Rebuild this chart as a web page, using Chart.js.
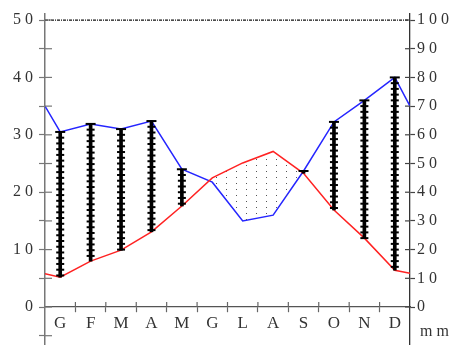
<!DOCTYPE html>
<html><head><meta charset="utf-8">
<script src="https://cdn.jsdelivr.net/npm/chart.js@4.4.1/dist/chart.umd.min.js"></script>
<style>html,body{margin:0;padding:0;background:#fff}canvas{display:block}</style>
</head><body>
<canvas id="c" width="454" height="345"></canvas>
<script>
// ---- data ----
const months = ['G','F','M','A','M','G','L','A','S','O','N','D'];
const temperature = [5.2, 8.0, 9.9, 13.1, 17.6, 22.5, 25.1, 27.1, 23.3, 16.9, 12.0, 6.4];   // °C (left axis)
const precipitation = [61, 63.8, 62, 64.8, 48, 43.5, 30, 32, 47.4, 64.5, 72, 80];            // mm (right axis)
const temperatureEdges = [5.8, 5.9];   // value where the curve meets the left / right axis
const precipitationEdges = [70, 70];
const tempTicks = [-5, 0, 5, 10, 15, 20, 25, 30, 35, 40, 45, 50];
const precTicks = [0, 10, 20, 30, 40, 50, 60, 70, 80, 90, 100];
const unitLabel = 'mm';

const SERIF = "'Liberation Serif','Times New Roman',serif";
const TXT = '#333';

// dotted pattern for the arid period
const pc = document.createElement('canvas');
pc.width = 10; pc.height = 6;
const pctx = pc.getContext('2d');
pctx.fillStyle = '#555';
pctx.fillRect(6, 3, 1, 1);
const dots = pctx.createPattern(pc, 'repeat');

const tempData = [{x: 0, y: temperatureEdges[0]}]
  .concat(temperature.map((v, i) => ({x: i + 0.5, y: v})))
  .concat([{x: months.length, y: temperatureEdges[1]}]);
const precData = [{x: 0, y: precipitationEdges[0]}]
  .concat(precipitation.map((v, i) => ({x: i + 0.5, y: v})))
  .concat([{x: months.length, y: precipitationEdges[1]}]);
const humidBars = [];
months.forEach((m, i) => {
  if (precipitation[i] > temperature[i] * 2) humidBars.push({x: i + 0.5, y: [temperature[i] * 2, precipitation[i]]});
});
const topLine = [{x: 0, y: tempTicks[tempTicks.length - 1]}, {x: months.length, y: tempTicks[tempTicks.length - 1]}];

const innerTicks = {
  id: 'innerTicks',
  beforeDraw(chart) { chart.ctx.letterSpacing = '4px'; },
  afterDraw(chart) {
    const ctx = chart.ctx;
    const sx = chart.scales.x, sy = chart.scales.y, sy2 = chart.scales.y2;
    ctx.save();
    ctx.letterSpacing = '0px';
    ctx.strokeStyle = '#777'; ctx.lineWidth = 1.2;
    sy.ticks.forEach(t => {
      const p = sy.getPixelForValue(t.value);
      ctx.beginPath(); ctx.moveTo(sy.right, p); ctx.lineTo(sy.right + 7, p); ctx.stroke();
    });
    ctx.strokeStyle = '#444';
    sy2.ticks.forEach(t => {
      const p = sy2.getPixelForValue(t.value);
      ctx.beginPath(); ctx.moveTo(sy2.left, p); ctx.lineTo(sy2.left - 5, p); ctx.stroke();
    });
    ctx.strokeStyle = '#666';
    const y0 = sy.getPixelForValue(0);
    sx.ticks.forEach(t => {
      if (t.value % 1 !== 0 || t.value === 0 || t.value === months.length) return;
      const p = sx.getPixelForValue(t.value);
      ctx.beginPath(); ctx.moveTo(p, y0); ctx.lineTo(p, y0 - 5); ctx.stroke();
    });
    ctx.restore();
    ctx.save();
    ctx.font = '16px ' + SERIF;
    ctx.fillStyle = TXT;
    ctx.letterSpacing = '4px';
    ctx.textAlign = 'left'; ctx.textBaseline = 'middle';
    ctx.fillText(unitLabel, chart.chartArea.right + 10, y0 + 25);
    ctx.restore();
  },
  afterDatasetsDraw(chart) {
    const idx = chart.data.datasets.findIndex(d => d.label === 'humid');
    const meta = chart.getDatasetMeta(idx);
    const s = chart.scales.y2;
    const ctx = chart.ctx;
    ctx.save();
    ctx.strokeStyle = '#000'; ctx.lineWidth = 2;
    meta.data.forEach((el, i) => {
      const [lo, hi] = chart.data.datasets[idx].data[i].y;
      let first = true;
      for (let v = hi; v >= lo - 0.2; v -= 2) {
        const p = s.getPixelForValue(v);
        const w = first ? 5 : 4;
        ctx.beginPath(); ctx.moveTo(el.x - w, p); ctx.lineTo(el.x + w, p); ctx.stroke();
        first = false;
      }
    });
    ctx.restore();
  }
};

function noPad(s) { s.paddingTop = 0; s.paddingBottom = 0; }

new Chart(document.getElementById('c'), {
  type: 'bar',
  data: {
    datasets: [
      {label: 'humid', type: 'bar', data: humidBars, yAxisID: 'y2', backgroundColor: '#000',
       barThickness: 3, borderWidth: 0, order: 0},
      {label: 'temperature', type: 'line', data: tempData, yAxisID: 'y', borderColor: '#ff2222',
       borderWidth: 1.5, pointRadius: 0, tension: 0, order: 2,
       fill: {target: 2, above: dots, below: 'rgba(0,0,0,0)'}},
      {label: 'precipitation', type: 'line', data: precData, yAxisID: 'y2', borderColor: '#2525ff',
       borderWidth: 1.5, pointRadius: 0, tension: 0, order: 2, fill: false},
      {label: 'top', type: 'line', data: topLine, yAxisID: 'y', borderColor: '#111',
       borderWidth: 1.3, borderDash: [3, 1, 1, 1], pointRadius: 0, order: 3, fill: false}
    ]
  },
  options: {
    responsive: false,
    animation: false,
    layout: {padding: {top: 14, left: 0, right: 0, bottom: 0}},
    plugins: {legend: {display: false}, tooltip: {enabled: false}},
    scales: {
      x: {
        type: 'linear', min: 0, max: months.length, position: {y: 0}, offset: false,
        afterBuildTicks(s) {
          const t = [];
          for (let i = 0; i < months.length; i++) { t.push({value: i + 0.5}); if (i > 0) t.push({value: i}); }
          s.ticks = t;
        },
        grid: {offset: false, drawOnChartArea: false, tickLength: 5, tickWidth: 1.2,
               tickColor: c => (c.tick && c.tick.value % 1 === 0) ? '#666' : 'rgba(0,0,0,0)'},
        border: {color: '#555', width: 1.2},
        ticks: {autoSkip: false, maxRotation: 0, padding: 1, labelOffset: 2, color: TXT,
                font: {family: SERIF, size: 17},
                callback: v => (v % 1 === 0.5) ? months[Math.floor(v)] : ''}
      },
      y: {
        position: 'left', min: -6.62, max: 51.05,
        afterBuildTicks(s) { s.ticks = tempTicks.map(v => ({value: v})); },
        afterFit(s) { s.width = 45; noPad(s); },
        grid: {drawOnChartArea: false, tickLength: 6, tickWidth: 1.2, tickColor: '#777'},
        border: {color: '#777', width: 1.5},
        ticks: {padding: 2, color: TXT, font: {family: SERIF, size: 16},
                callback: v => (v >= 0 && v % 10 === 0) ? String(v) : ''}
      },
      y2: {
        position: 'right', min: -13.24, max: 102.1,
        afterBuildTicks(s) { s.ticks = precTicks.map(v => ({value: v})); },
        afterFit(s) { s.width = 44; noPad(s); },
        grid: {drawOnChartArea: false, tickLength: 5, tickWidth: 1.2, tickColor: '#444'},
        border: {color: '#333', width: 1.3},
        ticks: {padding: 2, color: TXT, font: {family: SERIF, size: 16}, callback: v => String(v)}
      }
    }
  },
  plugins: [innerTicks]
});
</script>
</body></html>
